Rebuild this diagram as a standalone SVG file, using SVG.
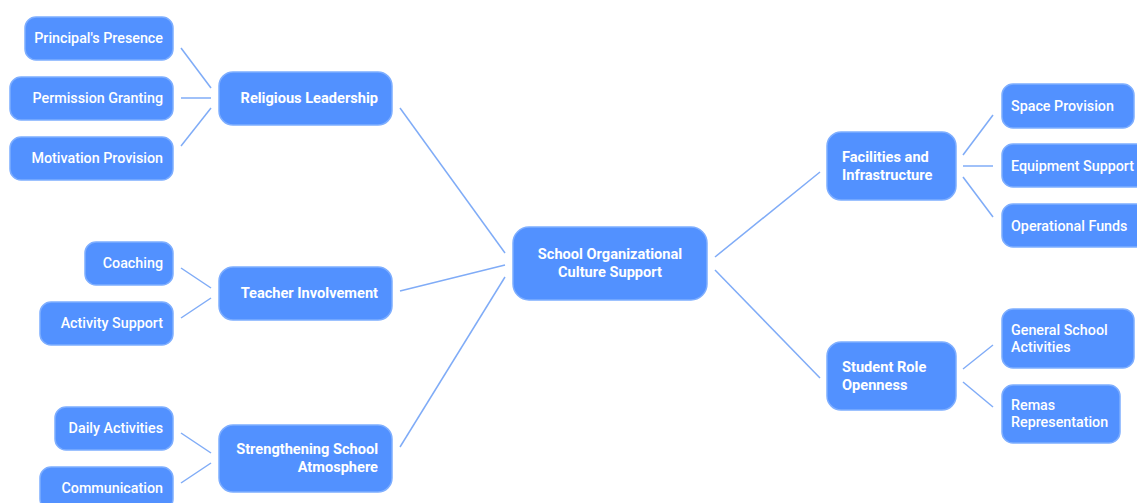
<svg xmlns="http://www.w3.org/2000/svg" width="1137" height="503" viewBox="0 0 1137 503">
<style>
.n{fill:#5291ff;stroke:#7eaeff;stroke-width:1.5}
.t{font-family:Roboto,"Liberation Sans",sans-serif;font-size:14.3px;fill:#ffffff;font-weight:500}
.b{font-weight:700;font-size:14.6px}
.e{stroke:#80acf7;stroke-width:1.5;fill:none}
</style>
<rect width="1137" height="503" fill="#ffffff"/>
<g id="connectors">
<line class="e" x1="181" y1="48" x2="211" y2="88"/>
<line class="e" x1="181" y1="98" x2="211" y2="98"/>
<line class="e" x1="181" y1="146" x2="211" y2="108"/>
<line class="e" x1="181" y1="268" x2="211" y2="288"/>
<line class="e" x1="181" y1="318" x2="211" y2="298"/>
<line class="e" x1="181" y1="433" x2="211" y2="453"/>
<line class="e" x1="181" y1="483" x2="211" y2="463"/>
<line class="e" x1="400" y1="108" x2="505" y2="253"/>
<line class="e" x1="400" y1="291" x2="505" y2="265"/>
<line class="e" x1="400" y1="447" x2="505" y2="277"/>
<line class="e" x1="715" y1="257" x2="820" y2="172"/>
<line class="e" x1="715" y1="270" x2="820" y2="378"/>
<line class="e" x1="963" y1="155" x2="993" y2="115"/>
<line class="e" x1="963" y1="166" x2="993" y2="166"/>
<line class="e" x1="963" y1="177" x2="993" y2="217"/>
<line class="e" x1="963" y1="369" x2="993" y2="345"/>
<line class="e" x1="963" y1="382" x2="993" y2="407"/>
</g>
<g id="center"><rect class="n" x="513" y="227" width="194" height="73" rx="16"/>
<text class="t b" x="610" y="259" text-anchor="middle">School Organizational</text>
<text class="t b" x="610" y="277" text-anchor="middle">Culture Support</text></g>
<g id="religious"><rect class="n" x="219" y="72" width="173" height="53" rx="14"/>
<text class="t b" x="378" y="103" text-anchor="end">Religious Leadership</text></g>
<g id="teacher"><rect class="n" x="219" y="267" width="173" height="53" rx="14"/>
<text class="t b" x="378" y="298" text-anchor="end">Teacher Involvement</text></g>
<g id="atmosphere"><rect class="n" x="219" y="425" width="173" height="67" rx="14"/>
<text class="t b" x="378" y="454" text-anchor="end">Strengthening School</text>
<text class="t b" x="378" y="472" text-anchor="end">Atmosphere</text></g>
<g id="principal"><rect class="n" x="25" y="17" width="148" height="43" rx="11"/>
<text class="t" x="163" y="43" text-anchor="end">Principal's Presence</text></g>
<g id="permission"><rect class="n" x="10" y="77" width="163" height="43" rx="11"/>
<text class="t" x="163" y="103" text-anchor="end">Permission Granting</text></g>
<g id="motivation"><rect class="n" x="10" y="137" width="163" height="43" rx="11"/>
<text class="t" x="163" y="163" text-anchor="end">Motivation Provision</text></g>
<g id="coaching"><rect class="n" x="85" y="242" width="88" height="43" rx="11"/>
<text class="t" x="163" y="268" text-anchor="end">Coaching</text></g>
<g id="activity"><rect class="n" x="40" y="302" width="133" height="43" rx="11"/>
<text class="t" x="163" y="328" text-anchor="end">Activity Support</text></g>
<g id="daily"><rect class="n" x="55" y="407" width="118" height="43" rx="11"/>
<text class="t" x="163" y="433" text-anchor="end">Daily Activities</text></g>
<g id="communication"><rect class="n" x="40" y="467" width="133" height="43" rx="11"/>
<text class="t" x="163" y="493" text-anchor="end">Communication</text></g>
<g id="facilities"><rect class="n" x="827" y="132" width="129" height="68" rx="14"/>
<text class="t b" x="842" y="162">Facilities and</text>
<text class="t b" x="842" y="180">Infrastructure</text></g>
<g id="student"><rect class="n" x="827" y="342" width="129" height="68" rx="14"/>
<text class="t b" x="842" y="372">Student Role</text>
<text class="t b" x="842" y="390">Openness</text></g>
<g id="space"><rect class="n" x="1002" y="84" width="132" height="44" rx="11"/>
<text class="t" x="1011" y="111">Space Provision</text></g>
<g id="equipment"><rect class="n" x="1002" y="144" width="150" height="43" rx="11"/>
<text class="t" x="1011" y="171">Equipment Support</text></g>
<g id="funds"><rect class="n" x="1002" y="204" width="150" height="43" rx="11"/>
<text class="t" x="1011" y="231">Operational Funds</text></g>
<g id="general"><rect class="n" x="1002" y="309" width="132" height="59" rx="11"/>
<text class="t" x="1011" y="335">General School</text>
<text class="t" x="1011" y="352">Activities</text></g>
<g id="remas"><rect class="n" x="1002" y="385" width="118" height="58" rx="11"/>
<text class="t" x="1011" y="410">Remas</text>
<text class="t" x="1011" y="427">Representation</text></g>
</svg>
